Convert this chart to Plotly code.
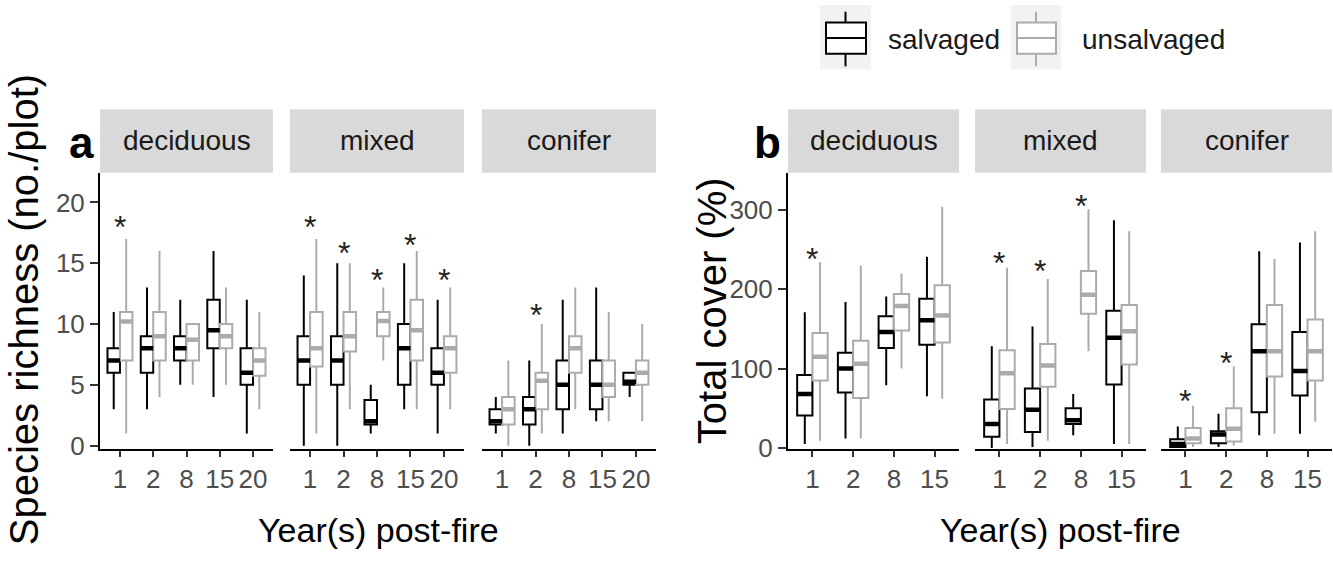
import plotly.graph_objects as go

# ---------------- data ----------------
forests = ["deciduous", "mixed", "conifer"]
years_a = ["1", "2", "8", "15", "20"]
years_b = ["1", "2", "8", "15"]
treatments = ["salvaged", "unsalvaged"]

# Panel a: species richness (no./plot); one row per forest type (deciduous, mixed, conifer)
rich_salv_lo = [[3, 3, 5, 4, 1], [0, 0, 1, 3, 1], [1, 0, 1, 2, 4]]
rich_salv_q1 = [[6, 6, 7, 8, 5], [5, 5, 1.75, 5, 5], [1.75, 1.75, 3, 3, 5]]
rich_salv_med = [[7, 8, 8, 9.5, 6], [7, 7, 2, 8, 6], [2, 3, 5, 5, 5.25]]
rich_salv_q3 = [[8, 9, 9, 12, 8], [9, 9, 3.75, 10, 8], [3, 4, 7, 7, 6]]
rich_salv_hi = [[11, 13, 12, 16, 12], [14, 15, 5, 15, 12], [4, 7, 12, 13, 6]]

rich_unsalv_lo = [[1, 4, 5, 5, 3], [1, 3, 7, 3, 3], [0, 1, 3, 2, 2]]
rich_unsalv_q1 = [[7, 7, 7, 8, 5.75], [6.5, 7.75, 9, 7, 6], [1.75, 3, 6, 4, 5]]
rich_unsalv_med = [[10.2, 9, 8.7, 9, 7], [8, 9, 10.25, 9.5, 8], [3, 5.33, 8, 5, 6]]
rich_unsalv_q3 = [[11, 11, 10, 10, 8], [11, 11, 11, 12, 9], [4, 6, 9, 7, 7]]
rich_unsalv_hi = [[17, 16, 10, 13, 11], [17, 15, 13, 16, 13], [7, 10, 13, 11, 10]]

# significance stars (None = no star)
rich_star = [[18.7, None, None, None, None],
             [18.7, 16.6, 14.4, 17.2, 14.4],
             [None, 11.5, None, None, None]]

# Panel b: total cover (%)
cov_salv_lo = [[5, 12, 79, 65], [0, 1, 16, 5], [0, 1, 16, 18]]
cov_salv_q1 = [[41, 70, 126, 130], [14, 20, 30, 80], [1, 6, 45, 66]]
cov_salv_med = [[68, 100, 146, 161], [30, 48, 35, 139], [5, 17, 122, 97]]
cov_salv_q3 = [[92, 120, 166, 188], [61, 75, 50, 173], [11, 21, 156, 146]]
cov_salv_hi = [[171, 184, 191, 241], [128, 153, 68, 287], [27, 43, 248, 259]]

cov_unsalv_lo = [[9, 12, 100, 62], [5, 9, 122, 5], [1, 3, 18, 33]]
cov_unsalv_q1 = [[85, 63, 148, 133], [49, 77, 169, 105], [6, 8, 90, 85]]
cov_unsalv_med = [[115, 106, 179, 167], [94, 104, 193, 147], [12, 24, 122, 122]]
cov_unsalv_q3 = [[145, 135, 194, 205], [123, 131, 223, 180], [25, 50, 180, 162]]
cov_unsalv_hi = [[234, 230, 220, 304], [227, 213, 301, 273], [53, 103, 238, 273]]

cov_star = [[249, None, None, None],
            [244, 234, 316, None],
            [71, 119, None, None]]

rich_ticks = [0, 5, 10, 15, 20]
cov_ticks = [0, 100, 200, 300]

# ---------------- styling ----------------
W, H = 1333, 570
FN = "Liberation Sans, Arial, sans-serif"
COL = {"salvaged": "#000000", "unsalvaged": "#ABABAB"}
TICKCOL = "#4D4D4D"


def px(x):
    return x / W


def py(y):
    return 1 - y / H


PLOT_TOP, PLOT_BOT = 177, 460
STRIP_TOP = 112
dom_a = [(100, 273), (290, 464), (482, 656)]
dom_b = [(788, 959), (975, 1146), (1161, 1332)]

fig = go.Figure()

panels = [
    dict(years=years_a, dom=dom_a, yname="y", star=rich_star,
         data={"salvaged": (rich_salv_lo, rich_salv_q1, rich_salv_med, rich_salv_q3, rich_salv_hi),
               "unsalvaged": (rich_unsalv_lo, rich_unsalv_q1, rich_unsalv_med, rich_unsalv_q3, rich_unsalv_hi)}),
    dict(years=years_b, dom=dom_b, yname="y2", star=cov_star,
         data={"salvaged": (cov_salv_lo, cov_salv_q1, cov_salv_med, cov_salv_q3, cov_salv_hi),
               "unsalvaged": (cov_unsalv_lo, cov_unsalv_q1, cov_unsalv_med, cov_unsalv_q3, cov_unsalv_hi)}),
]

annotations = []
shapes = []
layout_axes = {}
k = 0
for pi, P in enumerate(panels):
    n = len(P["years"])
    for fi, forest in enumerate(forests):
        k += 1
        xname = "x" if k == 1 else f"x{k}"
        xkey = "xaxis" if k == 1 else f"xaxis{k}"
        d0, d1 = P["dom"][fi]
        boxw = 0.375 * (d1 - d0) / (n + 0.2)
        for t in treatments:
            lo, q1, med, q3, hi = P["data"][t]
            fig.add_trace(go.Box(
                x=P["years"], lowerfence=lo[fi], q1=q1[fi], median=med[fi], q3=q3[fi],
                upperfence=hi[fi], name=t, legendgroup=t, showlegend=False,
                offsetgroup=t, alignmentgroup=f"g{k}", xaxis=xname, yaxis=P["yname"],
                line=dict(color=COL[t], width=2), fillcolor="white",
                boxpoints=False, whiskerwidth=0, hoverinfo="skip"))
            # thicker median bar (ggplot style)
            fig.add_trace(go.Scatter(
                x=P["years"], y=med[fi], mode="markers", showlegend=False,
                offsetgroup=t, alignmentgroup=f"g{k}", xaxis=xname, yaxis=P["yname"],
                marker=dict(symbol="line-ew", size=boxw / 1.4,
                            line=dict(color=COL[t], width=4.5)),
                hoverinfo="skip"))
        # stars (category index positions)
        for i, s in enumerate(P["star"][fi]):
            if s is not None:
                annotations.append(dict(x=i, y=s, xref=xname, yref=P["yname"], text="*",
                                        showarrow=False, yshift=-9, xanchor="center",
                                        yanchor="middle",
                                        font=dict(family=FN, size=32, color="#222222")))
        layout_axes[xkey] = dict(
            domain=[px(d0), px(d1)], anchor=P["yname"], type="category",
            categoryorder="array", categoryarray=P["years"], range=[-0.6, n - 0.4],
            tickmode="array", tickvals=P["years"], ticktext=P["years"],
            showline=True, linecolor="black", linewidth=2, ticks="outside", ticklen=6,
            tickwidth=1.5, tickcolor="#333333", showgrid=False, zeroline=False,
            tickfont=dict(family=FN, size=26, color=TICKCOL), fixedrange=True)
        # strip
        shapes.append(dict(type="rect", xref="paper", yref="paper", x0=px(d0), x1=px(d1),
                           y0=py(PLOT_TOP), y1=py(STRIP_TOP), fillcolor="#D9D9D9",
                           line=dict(width=0), layer="below"))
        annotations.append(dict(x=px((d0 + d1) / 2), y=py((PLOT_TOP + STRIP_TOP) / 2),
                                xref="paper", yref="paper", text=forest, showarrow=False,
                                xanchor="center", yanchor="middle",
                                font=dict(family=FN, size=28, color="#1A1A1A")))

yax_common = dict(domain=[py(PLOT_BOT), py(PLOT_TOP)], showline=True, linecolor="black",
                  linewidth=2, ticks="outside", ticklen=8, tickwidth=1.5, tickcolor="#333333",
                  showgrid=False, zeroline=False, fixedrange=True,
                  tickfont=dict(family=FN, size=26, color=TICKCOL))
layout_axes["yaxis"] = dict(yax_common, anchor="x", range=[-0.25, 22.45], tickvals=rich_ticks)
layout_axes["yaxis2"] = dict(yax_common, anchor="x4", range=[-1, 347], tickvals=cov_ticks)

# panel letters
for lx, lt in [(81, "a"), (767, "b")]:
    annotations.append(dict(x=px(lx), y=py(146), xref="paper", yref="paper", text=f"<b>{lt}</b>",
                            showarrow=False, xanchor="center", yanchor="middle",
                            font=dict(family=FN, size=44, color="black")))
# axis titles
for cx in [(dom_a[0][0] + dom_a[2][1]) / 2, (dom_b[0][0] + dom_b[2][1]) / 2]:
    annotations.append(dict(x=px(cx), y=py(543), xref="paper", yref="paper",
                            text="Year(s) post-fire", showarrow=False,
                            xanchor="center", yanchor="middle",
                            font=dict(family=FN, size=34, color="black")))
for tx, tt in [(24, "Species richness (no./plot)"), (712, "Total cover (%)")]:
    annotations.append(dict(x=px(tx), y=py(318), xref="paper", yref="paper",
                            text=tt, textangle=-90, showarrow=False,
                            xanchor="center", yanchor="middle",
                            font=dict(family=FN, size=40, color="black")))

# legend (drawn as keys + labels)
legend_keys = [("salvaged", 820, 871, 886), ("unsalvaged", 1011, 1061, 1080)]
for t, k0, k1, tx in legend_keys:
    c = COL[t]
    cx = (k0 + k1) / 2
    shapes.append(dict(type="rect", xref="paper", yref="paper", x0=px(k0), x1=px(k1),
                       y0=py(71), y1=py(5), fillcolor="#F2F2F2", line=dict(width=0)))
    shapes.append(dict(type="rect", xref="paper", yref="paper", x0=px(k0 + 6), x1=px(k1 - 5),
                       y0=py(55), y1=py(23), fillcolor="white", line=dict(color=c, width=2)))
    shapes.append(dict(type="line", xref="paper", yref="paper", x0=px(k0 + 6), x1=px(k1 - 5),
                       y0=py(39), y1=py(39), line=dict(color=c, width=2)))
    shapes.append(dict(type="line", xref="paper", yref="paper", x0=px(cx), x1=px(cx),
                       y0=py(23), y1=py(12), line=dict(color=c, width=2)))
    shapes.append(dict(type="line", xref="paper", yref="paper", x0=px(cx), x1=px(cx),
                       y0=py(55), y1=py(68), line=dict(color=c, width=2)))
    annotations.append(dict(x=px(tx), y=py(41), xref="paper", yref="paper", text=t,
                            showarrow=False, xanchor="left", yanchor="middle",
                            font=dict(family=FN, size=28, color="#1A1A1A")))

# initial size fits inside the default 8px page margin; it is enlarged to the
# full window once the page margin has been removed
fig.update_layout(
    width=W - 16, height=H - 16, autosize=False, margin=dict(l=0, r=0, t=0, b=0, pad=0),
    paper_bgcolor="white", plot_bgcolor="white", showlegend=False,
    boxmode="group", boxgap=0.25, boxgroupgap=0,
    scattermode="group", scattergap=0.25,
    shapes=shapes, annotations=annotations,
    **layout_axes)

fig.write_html(
    "out.html",
    config={"displayModeBar": False, "responsive": False},
    post_script=("document.body.style.margin='0px';"
                 "document.body.style.overflow='hidden';"
                 "var gd=document.getElementById('{plot_id}');"
                 "gd.style.width='" + str(W) + "px';gd.style.height='" + str(H) + "px';"
                 "Plotly.relayout(gd, {width: " + str(W) + ", height: " + str(H) + "});"))
